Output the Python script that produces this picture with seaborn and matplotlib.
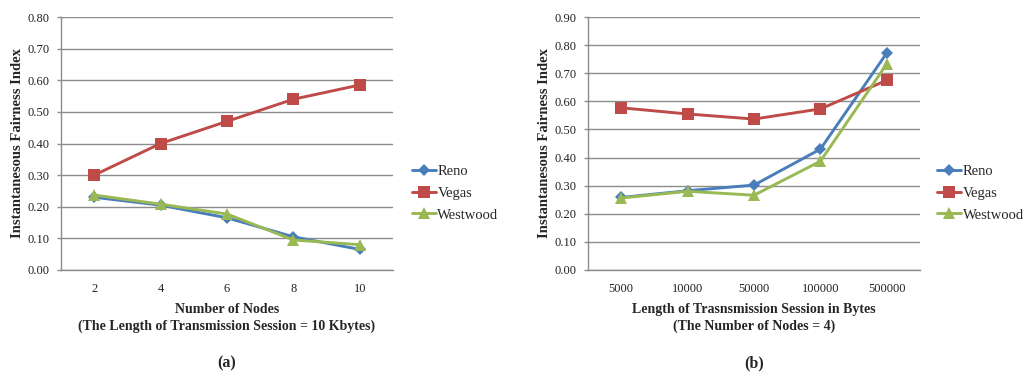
import matplotlib
matplotlib.use("Agg")
import matplotlib.pyplot as plt
import seaborn as sns
import pandas as pd
import numpy as np
from matplotlib.ticker import FormatStrFormatter, MultipleLocator

# ---- data ----
series_names = ["Reno", "Vegas", "Westwood"]

nodes = ["2", "4", "6", "8", "10"]
reno_a = [0.230, 0.205, 0.165, 0.105, 0.065]
vegas_a = [0.300, 0.400, 0.470, 0.540, 0.585]
westwood_a = [0.237, 0.208, 0.177, 0.095, 0.080]

lengths = ["5000", "10000", "50000", "100000", "500000"]
reno_b = [0.258, 0.282, 0.302, 0.430, 0.772]
vegas_b = [0.577, 0.555, 0.537, 0.573, 0.675]
westwood_b = [0.256, 0.280, 0.266, 0.387, 0.733]

xlabel_a = "Number of Nodes\n(The Length of Transmission Session = 10 Kbytes)"
xlabel_b = "Length of Trasnsmission Session in Bytes\n(The Number of Nodes = 4)"
ylabel = "Instantanesous Fairness Index"
panel_a = "(a)"
panel_b = "(b)"

colors = {"Reno": "#4a7ebb", "Vegas": "#be4b48", "Westwood": "#98b954"}
markers = {"Reno": "D", "Vegas": "s", "Westwood": "^"}


def long_df(cats, vals):
    rows = []
    for name, v in zip(series_names, vals):
        for c, y in zip(cats, v):
            rows.append({"x": c, "value": y, "series": name})
    return pd.DataFrame(rows)


df_a = long_df(nodes, [reno_a, vegas_a, westwood_a])
df_b = long_df(lengths, [reno_b, vegas_b, westwood_b])

sns.set_theme(style="white")
plt.rcParams["font.family"] = ["Liberation Serif", "DejaVu Serif"]

fig = plt.figure(figsize=(10.3, 3.74), dpi=100)
ax_a = fig.add_axes([61 / 1030, 1 - 270 / 374, 332 / 1030, 253 / 374])
ax_b = fig.add_axes([588 / 1030, 1 - 270 / 374, 332 / 1030, 253 / 374])

grid_c = "#8c8c8c"


def draw(ax, df, cats, ymax, legx):
    sns.lineplot(data=df, x="x", y="value", hue="series", style="series",
                 hue_order=series_names, style_order=series_names,
                 palette=colors, markers=markers, dashes=False, sort=False,
                 linewidth=2.1, markersize=8, markeredgewidth=0,
                 ax=ax, legend=True)
    for ln in ax.lines:
        if ln.get_marker() == "D":
            ln.set_markersize(6.5)
    ax.set_xlim(-0.5, len(cats) - 0.5)
    ax.set_ylim(0, ymax)
    ax.yaxis.set_major_locator(MultipleLocator(0.1))
    ax.yaxis.set_major_formatter(FormatStrFormatter("%.2f"))
    ax.grid(axis="y", color=grid_c, linewidth=1.0)
    ax.set_axisbelow(True)
    for s in ["top", "right"]:
        ax.spines[s].set_visible(False)
    for s in ["left", "bottom"]:
        ax.spines[s].set_color(grid_c)
        ax.spines[s].set_linewidth(1.0)
    ax.tick_params(axis="x", length=0, pad=9, labelsize=9, colors="#222222")
    ax.tick_params(axis="y", length=3, width=1.0, color=grid_c, pad=5,
                   labelsize=9, labelcolor="#222222", left=True)
    ax.set_xlabel("")
    ax.set_ylabel(ylabel, fontsize=10.5, fontweight="bold")
    ax.yaxis.set_label_coords(-0.112, 0.5)
    h, l = ax.get_legend_handles_labels()
    for hh in h:
        if hh.get_marker() == "D":
            hh.set_markersize(6.5)
    ax.legend(h, l, loc="center left", bbox_to_anchor=(legx, 1 - 193 / 374),
              bbox_transform=fig.transFigure, frameon=False, fontsize=10.5,
              handlelength=1.65, handletextpad=0.12, labelspacing=0.6,
              borderaxespad=0)


draw(ax_a, df_a, nodes, 0.8, 0.394)
draw(ax_b, df_b, lengths, 0.9, 0.904)

for ax, xl, pl in [(ax_a, xlabel_a, panel_a), (ax_b, xlabel_b, panel_b)]:
    pos = ax.get_position()
    cx = pos.x0 + pos.width / 2
    fig.text(cx, 1 - 318 / 374, xl, ha="center", va="center",
             fontsize=10, fontweight="bold", linespacing=1.25)
    fig.text(cx, 1 - 363 / 374, pl, ha="center", va="center",
             fontsize=11.5, fontweight="bold")

fig.savefig("out.png", dpi=100)
